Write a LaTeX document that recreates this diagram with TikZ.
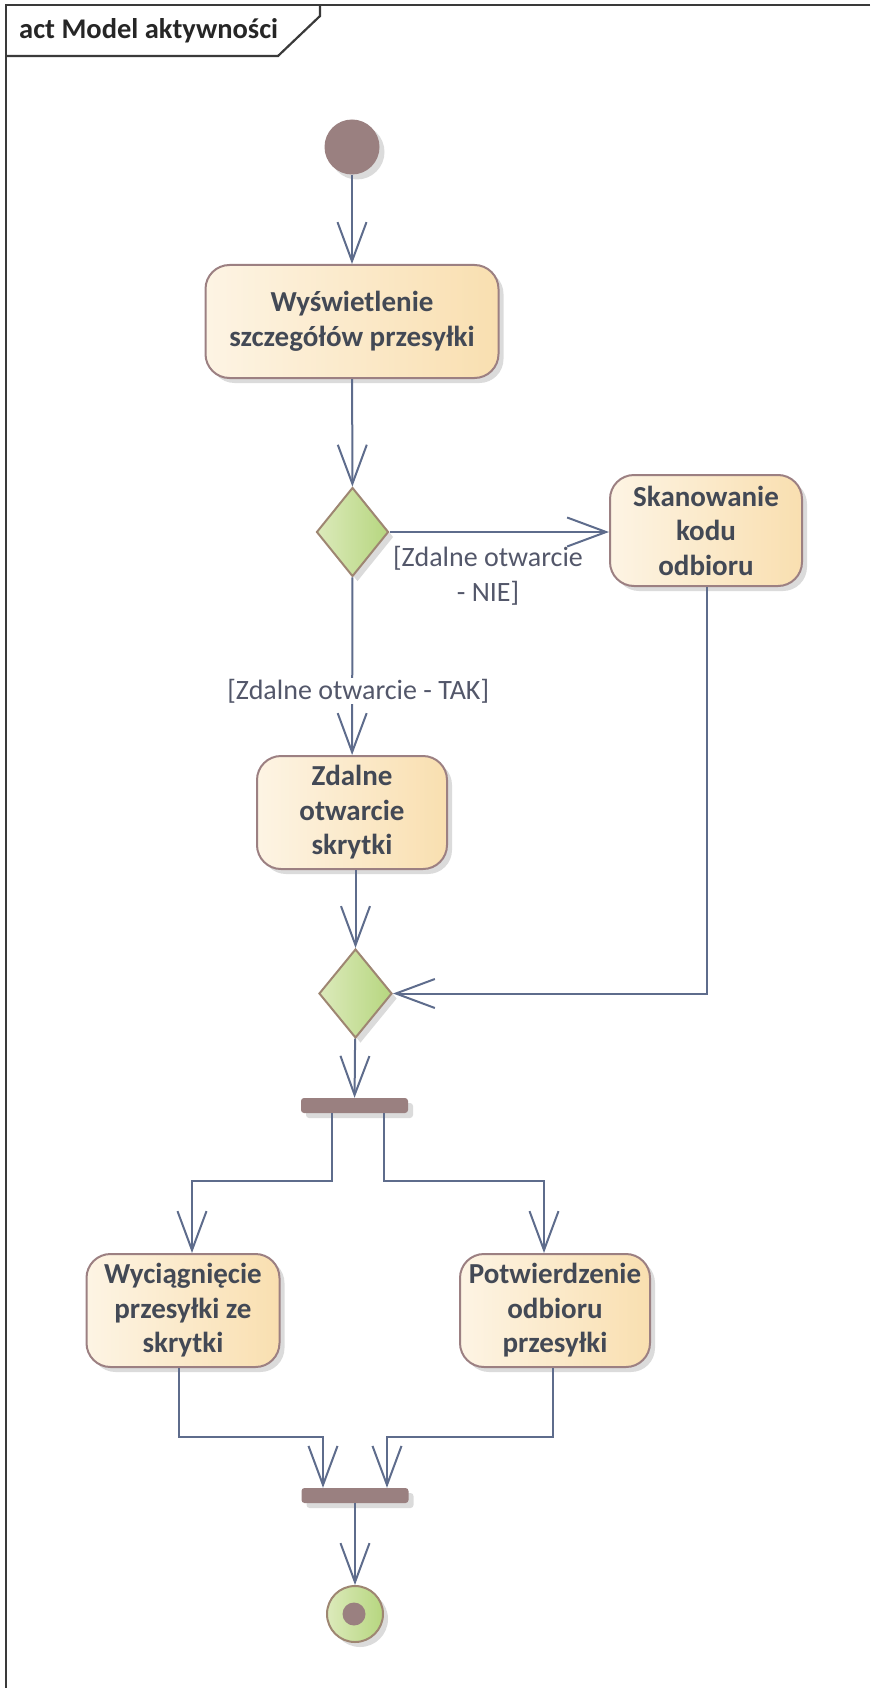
\documentclass[tikz,border=0pt]{standalone}
\usepackage{fontspec}
\setmainfont{Carlito}
\usetikzlibrary{arrows.meta,shapes.geometric,shadows}
\definecolor{actL}{HTML}{FDF4E4}
\definecolor{actR}{HTML}{F9DFB0}
\definecolor{actB}{HTML}{9C8082}
\definecolor{actT}{HTML}{434955}
\definecolor{decL}{HTML}{DCEABB}
\definecolor{decR}{HTML}{B6D67F}
\definecolor{decB}{HTML}{9E8672}
\definecolor{barC}{HTML}{9A8080}
\definecolor{connC}{HTML}{5E6C8C}
\definecolor{guardT}{HTML}{53576A}
\definecolor{frameC}{HTML}{3A3A3A}
\tikzset{
  shad/.style={drop shadow={shadow xshift=5pt, shadow yshift=-5pt, fill=black!14, opacity=1}},
  actbox/.style={shad, draw=actB, line width=2pt, rounded corners=24pt, left color=actL, right color=actR,
    minimum height=113pt, inner sep=0pt, align=center, text=actT,
    font=\bfseries\fontsize{29}{34.5}\selectfont},
  decision/.style={shad, diamond, draw=decB, line width=2pt, left color=decL, right color=decR,
    minimum width=72pt, minimum height=89pt, inner sep=0pt},
  barnode/.style={shad, draw=none, fill=barC, rounded corners=3pt, minimum width=107pt, minimum height=15pt, inner sep=0pt},
  conn/.style={draw=connC, line width=2pt, -{Straight Barb[length=39pt,width=29pt,line width=2pt]}},
  guard/.style={fill=white, text=guardT, inner sep=1pt, align=center, font=\fontsize{28}{34.5}\selectfont},
}
\begin{document}
\begin{tikzpicture}[x=1pt, y=-1pt]
\useasboundingbox (0,0) rectangle (870,1688);
% frame
\draw[frameC, line width=2.2pt] (870,5) -- (6,5) -- (6,1688);
\draw[frameC, line width=2.2pt] (6,56) -- (278,56) -- (320,16) -- (320,5);
\node[anchor=west, font=\bfseries\fontsize{28.5}{34}\selectfont, text=black!85, inner sep=0pt] (title) at (19,31) {act Model aktywności};

% nodes
\node[shad, circle, fill=barC, minimum size=55pt, inner sep=0pt] (start) at (352,147) {};
\node[actbox, minimum width=293pt] (a1) at (352,321.5) {Wyświetlenie\\szczegółów przesyłki};
\node[decision] (d1) at (352.5,532) {};
\node[actbox, minimum width=192pt, minimum height=111pt] (skan) at (706,530.5) {Skanowanie\\kodu\\odbioru};
\node[actbox, minimum width=190pt] (zd) at (352,812.5) {Zdalne\\otwarcie\\skrytki};
\node[decision, minimum width=73pt] (d2) at (355.5,993.5) {};
\node[barnode] (fork1) at (354.5,1105.5) {};
\node[actbox, minimum width=193pt] (wyc) at (183,1310.5) {Wyciągnięcie\\przesyłki ze\\skrytki};
\node[actbox, minimum width=190pt] (pot) at (555,1310.5) {Potwierdzenie\\odbioru\\przesyłki};
\node[barnode] (join) at (355,1495.5) {};
\node[shad, circle, draw=decB, line width=2pt, left color=decL, right color=decR, minimum size=56pt, inner sep=0pt] (end) at (355,1614) {};
\node[circle, fill=barC, minimum size=23pt, inner sep=0pt] (endin) at (354,1614) {};

\node[guard, fill=none] (gnie) at (488,576) {[Zdalne otwarcie\\- NIE]};

% connectors
\draw[conn] (start) -- (a1);
\draw[conn] (a1) -- (d1);
\draw[conn] (d1.east) -- (d1.east -| skan.west);
\draw[conn] (d1) -- node[guard, pos=0.64, xshift=6pt] (gtak) {[Zdalne otwarcie - TAK]} (zd);
\draw[conn] (zd.south -| d2.north) -- (d2.north);
\draw[conn] ([xshift=1pt]skan.south) |- (d2.east);
\draw[conn] (d2) -- (fork1);
\draw[conn] ([xshift=-22.5pt]fork1.south) -- ++(0,68) -| ([xshift=9pt]wyc.north);
\draw[conn] ([xshift=29.5pt]fork1.south) -- ++(0,68) -| ([xshift=-11pt]pot.north);
\draw[conn] ([xshift=-4pt]wyc.south) -- ++(0,69) -| ([xshift=-32pt]join.north);
\draw[conn] ([xshift=-2pt]pot.south) -- ++(0,69) -| ([xshift=32pt]join.north);
\draw[conn] (join) -- (end);
\end{tikzpicture}
\end{document}
